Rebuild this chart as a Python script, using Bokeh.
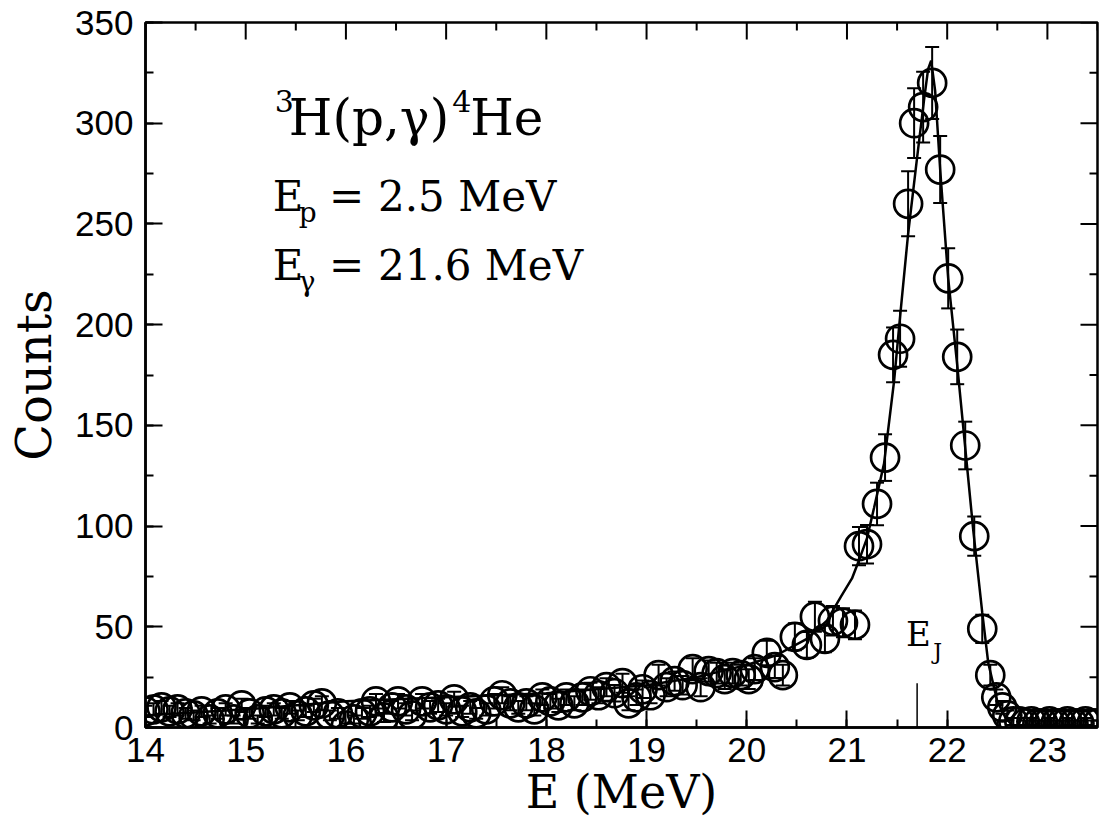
from bokeh.plotting import figure
from bokeh.models import (Range1d, SingleIntervalTicker, Whisker,
                          TeeHead, ColumnDataSource)
from bokeh.core.properties import value
from bokeh.embed import file_html
from bokeh.resources import INLINE
import numpy as np

# ---- measured spectrum (E in MeV, counts) ----
energy = [14.00, 14.08, 14.16, 14.24, 14.32, 14.40, 14.48, 14.56, 14.64, 14.72,
          14.80, 14.88, 14.96, 15.04, 15.12, 15.20, 15.28, 15.36, 15.44, 15.52,
          15.60, 15.68, 15.76, 15.84, 15.92, 16.00, 16.08, 16.16, 16.24, 16.30,
          16.38, 16.46, 16.52, 16.60, 16.66, 16.76, 16.84, 16.92, 17.00, 17.08,
          17.16, 17.24, 17.30, 17.40, 17.48, 17.56, 17.64, 17.72, 17.80, 17.88,
          17.96, 18.04, 18.12, 18.20, 18.28, 18.36, 18.44, 18.52, 18.60, 18.68,
          18.76, 18.82, 18.90, 18.96, 19.04, 19.12, 19.20, 19.28, 19.36, 19.46,
          19.54, 19.62, 19.70, 19.78, 19.86, 19.94, 20.02, 20.08, 20.20, 20.28,
          20.36, 20.48, 20.60, 20.68, 20.78, 20.86, 20.96, 21.08, 21.12, 21.20,
          21.30, 21.38, 21.46, 21.53, 21.61, 21.67, 21.76, 21.85, 21.93, 22.01,
          22.10, 22.18, 22.27, 22.35, 22.43, 22.49, 22.55, 22.60, 22.66, 22.72,
          22.78, 22.84, 22.90, 22.96, 23.02, 23.08, 23.14, 23.20, 23.26, 23.32,
          23.38, 23.44, 23.50]
counts = [8, 9, 10, 8, 9, 7, 6, 8, 4, 7,
          9, 4, 11, 7, 4, 8, 9, 7, 10, 6,
          8, 11, 12, 6, 7, 1, 4, 7, 8, 13,
          5, 10, 13, 9, 6, 13, 10, 11, 9, 14,
          8, 10, 7, 9, 13, 16, 12, 10, 12, 9,
          15, 13, 11, 15, 12, 15, 18, 16, 20, 17,
          22, 12, 15, 19, 16, 26, 20, 23, 21, 29,
          20, 28, 27, 24, 27, 26, 24, 29, 37, 30,
          26, 45, 41, 55, 44, 53, 52, 51, 90, 91,
          111, 134, 185, 193, 260, 300, 308, 320, 277, 223,
          184, 140, 95, 49, 26, 15, 10, 6, 3, 3,
          2, 3, 2, 2, 3, 2, 2, 3, 2, 2,
          3, 2, 2]

# ---- fitted response curve ----
fit_energy = [14.0, 15.0, 16.0, 17.0, 18.0, 19.0, 19.5, 20.0, 20.3, 20.6,
              20.8, 20.94, 21.05, 21.12, 21.2, 21.27, 21.37, 21.47, 21.53, 21.61,
              21.7, 21.77, 21.81, 21.84, 21.88, 21.93, 22.01, 22.1, 22.18, 22.26,
              22.35, 22.41, 22.5, 22.58, 22.65, 22.75, 23.0, 23.5]
fit_counts = [6, 9, 13, 15, 17, 21, 25, 31, 36, 44,
              53, 65, 74, 83, 94, 109, 131, 172, 204, 245,
              283, 312, 327, 331, 316, 277, 223, 180, 139, 98,
              57, 32, 13, 5, 1, 0, 0, 0]

# axis ticks
x_major = [14, 15, 16, 17, 18, 19, 20, 21, 22, 23]
x_minor = [14.5, 15.5, 16.5, 17.5, 18.5, 19.5, 20.5, 21.5, 22.5, 23.5]
y_major = [0, 50, 100, 150, 200, 250, 300, 350]
y_minor = [25, 75, 125, 175, 225, 275, 325]

X0, X1, Y0, Y1 = 14, 23.5, 0, 350
ej_energy = 21.70
ej_height = 22

err = np.sqrt(np.array(counts, dtype=float))
src = ColumnDataSource(dict(E=energy, N=counts,
                            up=[c + e for c, e in zip(counts, err)],
                            lo=[c - e for c, e in zip(counts, err)]))

W, H = 1106, 831
ML, MR, MT, MB = 145, 9, 22, 104
p = figure(width=W, height=H, x_range=Range1d(X0, X1), y_range=Range1d(Y0, Y1),
           output_backend="svg", toolbar_location=None,
           min_border_left=ML, min_border_right=MR, min_border_top=MT, min_border_bottom=MB)
p.background_fill_color = "white"
p.border_fill_color = "white"
p.outline_line_color = "black"
p.outline_line_width = 2.5
p.xgrid.visible = False
p.ygrid.visible = False

# pixel -> data scale (for tick lengths on the top/right edges)
px_x = (X1 - X0) / (W - ML - MR)
px_y = (Y1 - Y0) / (H - MT - MB)

xt = SingleIntervalTicker(interval=1, num_minor_ticks=2)
yt = SingleIntervalTicker(interval=50, num_minor_ticks=2)

for ax in (p.xaxis[0], p.yaxis[0]):
    ax.axis_line_color = "black"
    ax.axis_line_width = 2.5
    ax.major_tick_line_width = 2
    ax.minor_tick_line_width = 2
    ax.major_tick_in = 17
    ax.major_tick_out = 0
    ax.minor_tick_in = 8
    ax.minor_tick_out = 0
    ax.major_label_text_font = "Liberation Sans"
    ax.major_label_text_font_size = "35px"
    ax.major_label_text_color = "black"
    ax.axis_label_text_font = "DejaVu Serif"
    ax.axis_label_text_font_style = "normal"
    ax.axis_label_text_color = "black"

p.xaxis.ticker = xt
p.yaxis.ticker = yt
p.xaxis.axis_label = "E (MeV)"
p.yaxis.axis_label = "Counts"
p.xaxis.axis_label_text_font_size = "46px"
p.yaxis.axis_label_text_font_size = "48px"
p.xaxis.major_label_standoff = 10
p.yaxis.major_label_standoff = 12
p.xaxis.axis_label_standoff = 0
p.yaxis.axis_label_standoff = 10

# ticks on the top and right edges of the frame
p.segment(x0=x_major, y0=[Y1] * len(x_major), x1=x_major,
          y1=[Y1 - 17 * px_y] * len(x_major), line_color="black", line_width=2)
p.segment(x0=x_minor, y0=[Y1] * len(x_minor), x1=x_minor,
          y1=[Y1 - 8 * px_y] * len(x_minor), line_color="black", line_width=2)
p.segment(x0=[X1] * len(y_major), y0=y_major, x1=[X1 - 17 * px_x] * len(y_major),
          y1=y_major, line_color="black", line_width=2)
p.segment(x0=[X1] * len(y_minor), y0=y_minor, x1=[X1 - 8 * px_x] * len(y_minor),
          y1=y_minor, line_color="black", line_width=2)

# fit curve
p.line(fit_energy, fit_counts, line_color="black", line_width=2.5)

# error bars
wh = Whisker(source=src, base="E", upper="up", lower="lo", dimension="height",
             line_color="black", line_width=2,
             upper_head=TeeHead(size=14, line_width=2, line_color="black"),
             lower_head=TeeHead(size=14, line_width=2, line_color="black"))
p.add_layout(wh)

# data points
p.scatter("E", "N", source=src, marker="circle", size=28, fill_alpha=0,
          line_color="black", line_width=2.7)

# E_J marker
p.segment(x0=[ej_energy], y0=[0], x1=[ej_energy], y1=[ej_height],
          line_color="black", line_width=1.5)

# annotation texts
ann = ColumnDataSource(dict(
    x=[15.29, 15.43, 17.06, 17.24,
       15.27, 15.53, 15.83, 16.32,
       15.27, 15.53, 15.83, 16.32,
       21.59, 21.86],
    y=[310.8, 302.5, 310.8, 302.5,
       263.7, 255.7, 263.7, 263.7,
       229.4, 221.4, 229.4, 229.4,
       46.2, 37.7],
    t=["3", "H(p,\u03b3)", "4", "He",
       "E", "p", "=", "2.5 MeV",
       "E", "\u03b3", "=", "21.6 MeV",
       "E", "J"],
    s=["30px", "50px", "30px", "50px",
       "42px", "28px", "42px", "42px",
       "42px", "28px", "42px", "42px",
       "34px", "22px"],
))
p.text(x="x", y="y", text="t", source=ann, text_font=value("DejaVu Serif"),
       text_font_size="s", text_color="black", text_baseline="alphabetic", text_align="left")

open("out.html", "w").write(file_html(p, INLINE))
